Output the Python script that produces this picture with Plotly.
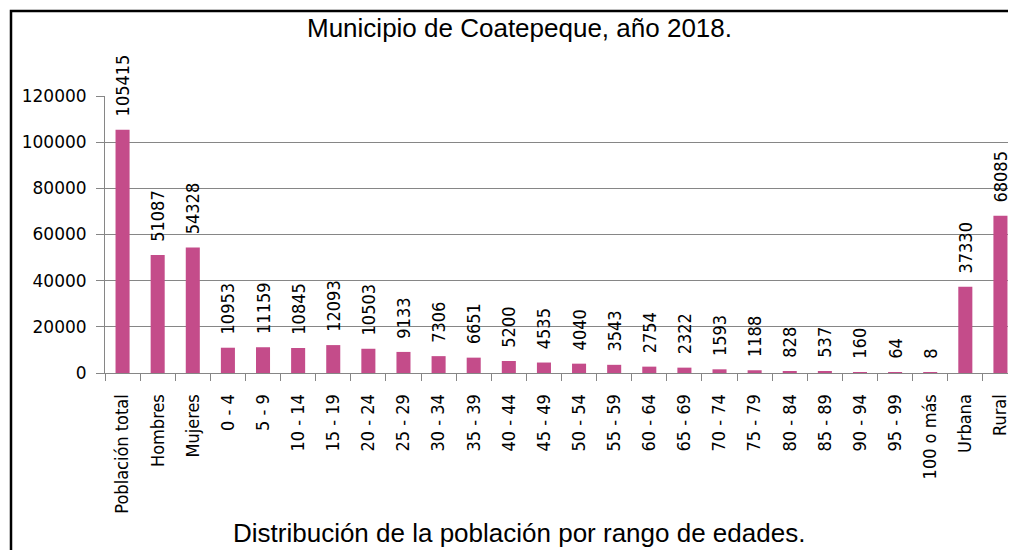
import plotly.graph_objects as go

categories = ["Población total", "Hombres", "Mujeres", "0 - 4", "5 - 9", "10 - 14", "15 - 19",
              "20 - 24", "25 - 29", "30 - 34", "35 - 39", "40 - 44", "45 - 49", "50 - 54",
              "55 - 59", "60 - 64", "65 - 69", "70 - 74", "75 - 79", "80 - 84", "85 - 89",
              "90 - 94", "95 - 99", "100 o más", "Urbana", "Rural"]
values = [105415, 51087, 54328, 10953, 11159, 10845, 12093, 10503, 9133, 7306, 6651, 5200,
          4535, 4040, 3543, 2754, 2322, 1593, 1188, 828, 537, 160, 64, 8, 37330, 68085]
y_ticks = [0, 20000, 40000, 60000, 80000, 100000, 120000]

title_text = "Municipio de Coatepeque, año 2018."
subtitle_text = "Distribución de la población por rango de edades."

label_font = "DejaVu Sans Condensed, DejaVu Sans, sans-serif"

# page offset compensation (body margin 8px)
L, R, T, B = 97, 6, 88, 185
PW = 1016 - L - R
PH = 550 - T - B

fig = go.Figure()
fig.add_trace(go.Bar(
    x=categories,
    y=values,
    width=0.4,
    marker=dict(color="#C44C8A", line=dict(width=0)),
    text=["\u00a0\u00a0" + str(v) for v in values],
    textposition="outside",
    textangle=-90,
    constraintext="none",
    cliponaxis=False,
    textfont=dict(family=label_font, size=18, color="#000000"),
    hoverinfo="skip",
))

fig.update_layout(
    width=1016,
    height=550,
    margin=dict(l=L, r=R, t=T, b=B, autoexpand=False),
    paper_bgcolor="white",
    plot_bgcolor="white",
    showlegend=False,
    xaxis=dict(
        type="category",
        automargin=False,
        showgrid=False,
        showline=True,
        linecolor="#868686",
        linewidth=1,
        ticks="outside",
        tickson="boundaries",
        ticklen=7,
        tickcolor="#868686",
        tickangle=-90,
        ticklabelstandoff=13,
        tickfont=dict(family=label_font, size=18, color="#000000"),
        range=[-0.5, 25.5],
    ),
    yaxis=dict(
        automargin=False,
        range=[0, 120000],
        tickvals=y_ticks,
        ticktext=[str(v) for v in y_ticks],
        showgrid=True,
        gridcolor="#868686",
        gridwidth=1,
        showline=True,
        linecolor="#868686",
        linewidth=1,
        ticks="outside",
        ticklen=8,
        tickcolor="#868686",
        ticklabelstandoff=6,
        tickfont=dict(family="DejaVu Sans, sans-serif", size=17, color="#000000"),
        zeroline=False,
    ),
    annotations=[
        dict(text=title_text, xref="paper", yref="paper", x=(511 - L) / PW, y=(T + PH - 3) / PH,
             xanchor="center", yanchor="top", showarrow=False,
             font=dict(family="Liberation Sans, Arial, sans-serif", size=26, color="#000000")),
        dict(text=subtitle_text, xref="paper", yref="paper", x=(511 - L) / PW, y=-(542 - T - PH) / PH,
             xanchor="center", yanchor="bottom", showarrow=False,
             font=dict(family="Liberation Sans, Arial, sans-serif", size=26, color="#000000")),
    ],
    shapes=[
        dict(type="rect", xref="paper", yref="paper",
             x0=(3 - L) / PW, x1=1.2, y0=-1.0, y1=(T + PH - 3) / PH,
             line=dict(color="#000000", width=2.5), fillcolor="rgba(0,0,0,0)", layer="above"),
    ],
)

fig.write_html("out.html")
